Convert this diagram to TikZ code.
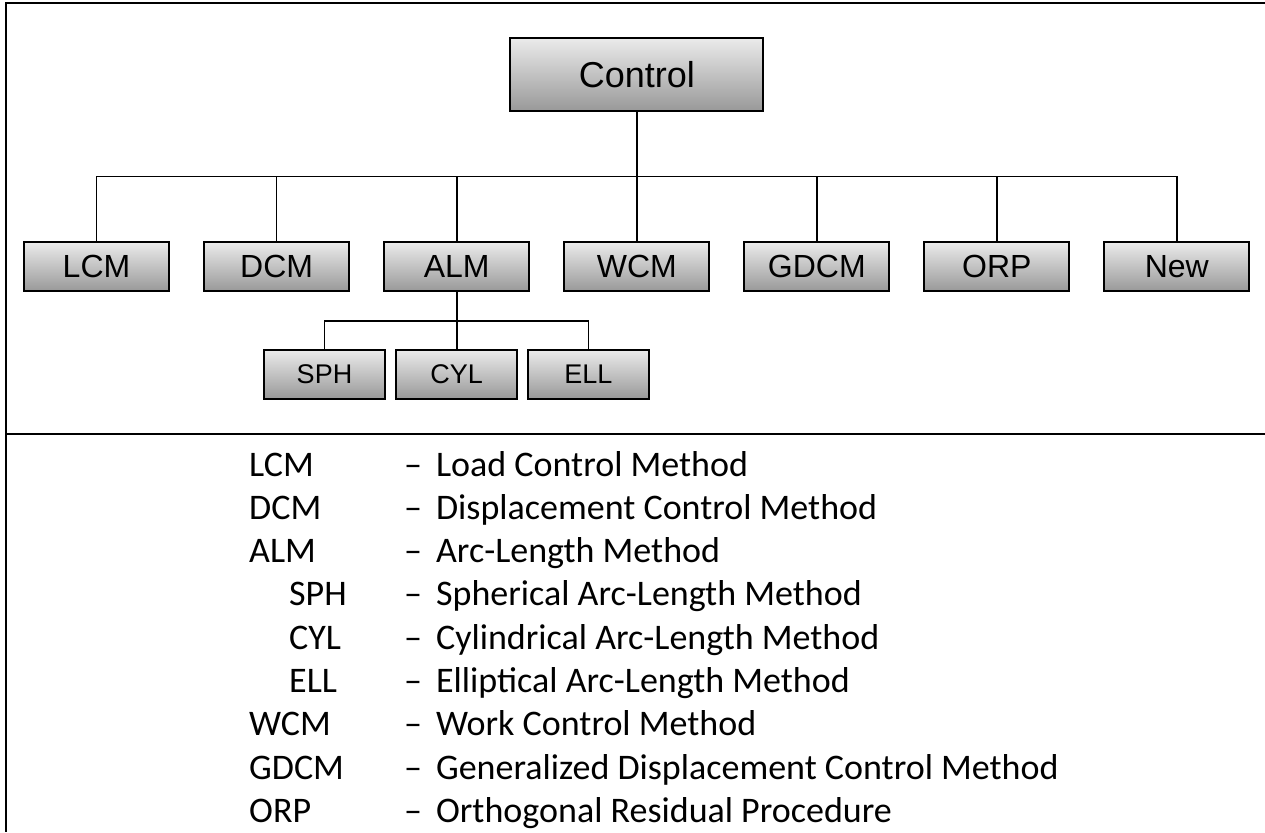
\documentclass[tikz,border=0pt]{standalone}
\usepackage{fontspec}
\setmainfont{Carlito}
\newfontfamily\boxfont{Liberation Sans}
\usetikzlibrary{positioning}

\tikzset{
    method/.style={draw, line width=1.8pt, top color=black!8, middle color=black!15,
        bottom color=black!40, inner sep=0pt, minimum width=145pt, minimum height=48.7pt,
        font=\boxfont\fontsize{32}{32}\selectfont},
    submethod/.style={method, minimum width=121pt, font=\boxfont\fontsize{27}{27}\selectfont},
    key/.style={anchor=base west, inner sep=0pt, font=\fontsize{36}{36}\selectfont},
    link/.style={line width=1.6pt},
}

\begin{document}
\begin{tikzpicture}[x=1pt, y=-1pt]
    \useasboundingbox (0,0) rectangle (1265,832);
    \fill[white] (0,0) rectangle (1265,832);
    % frame
    \draw[line width=2pt] (1265,3) -- (6,3) -- (6,832);
    \draw[line width=2pt] (6,434.3) -- (1265,434.3);

    % tree
    \node[method, minimum width=253pt, minimum height=72.4pt,
        font=\boxfont\fontsize{36}{36}\selectfont] (control) at (636.8,74.5) {Control};
    \node[method] (lcm) at (96.5,266.7) {LCM};
    \node[method] (dcm) at (276.6,266.7) {DCM};
    \node[method] (alm) at (456.7,266.7) {ALM};
    \node[method] (wcm) at (636.8,266.7) {WCM};
    \node[method] (gdcm) at (816.8,266.7) {GDCM};
    \node[method] (orp) at (996.8,266.7) {ORP};
    \node[method] (new) at (1176.8,266.7) {New};
    \node[submethod] (sph) at (324.5,374.3) {SPH};
    \node[submethod] (cyl) at (456.7,374.3) {CYL};
    \node[submethod] (ell) at (588.3,374.3) {ELL};

    \coordinate (bus) at (636.8,176.5);
    \coordinate (subbus) at (456.7,320.7);
    \draw[line width=2.3pt] (control.south) -- (bus);
    \draw[link] (bus) -| (lcm.north);
    \draw[link] (bus) -| (dcm.north);
    \draw[link] (bus) -| (alm.north);
    \draw[link] (bus) -- (wcm.north);
    \draw[link] (bus) -| (gdcm.north);
    \draw[link] (bus) -| (orp.north);
    \draw[link] (bus) -| (new.north);
    \draw[link] (alm.south) -- (subbus);
    \draw[link] (subbus) -| (sph.north);
    \draw[link] (subbus) -- (cyl.north);
    \draw[link] (subbus) -| (ell.north);

    % legend
    \node[key] (klcm) at (249,476) {LCM};
    \node[key] (tlcm) at (404,476) {--\hspace{14pt}Load Control Method};
    \node[key] (kdcm) at (249,519.3) {DCM};
    \node[key] (tdcm) at (404,519.3) {--\hspace{14pt}Displacement Control Method};
    \node[key] (kalm) at (249,562.6) {ALM};
    \node[key] (talm) at (404,562.6) {--\hspace{14pt}Arc-Length Method};
    \node[key] (ksph) at (289,605.9) {SPH};
    \node[key] (tsph) at (404,605.9) {--\hspace{14pt}Spherical Arc-Length Method};
    \node[key] (kcyl) at (289,649.2) {CYL};
    \node[key] (tcyl) at (404,649.2) {--\hspace{14pt}Cylindrical Arc-Length Method};
    \node[key] (kell) at (289,692.5) {ELL};
    \node[key] (tell) at (404,692.5) {--\hspace{14pt}Elliptical Arc-Length Method};
    \node[key] (kwcm) at (249,735.8) {WCM};
    \node[key] (twcm) at (404,735.8) {--\hspace{14pt}Work Control Method};
    \node[key] (kgdcm) at (249,779.1) {GDCM};
    \node[key] (tgdcm) at (404,779.1) {--\hspace{14pt}Generalized Displacement Control Method};
    \node[key] (korp) at (249,822.4) {ORP};
    \node[key] (torp) at (404,822.4) {--\hspace{14pt}Orthogonal Residual Procedure};
\end{tikzpicture}
\end{document}
